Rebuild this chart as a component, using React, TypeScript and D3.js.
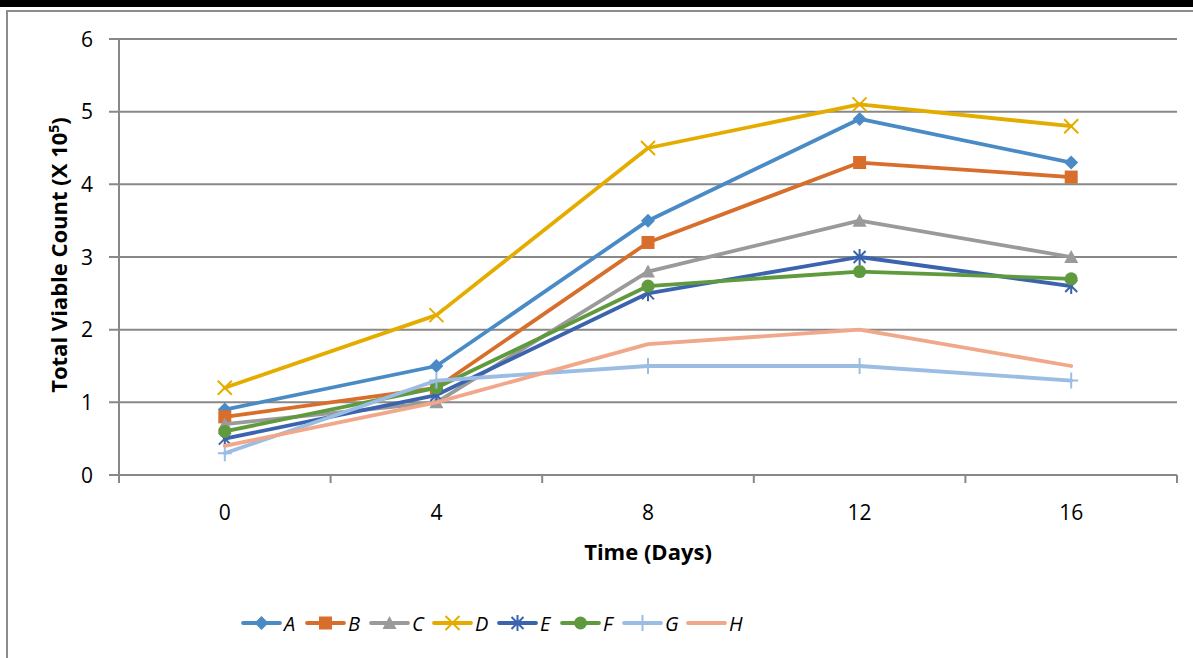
import React from "react";
import * as d3 from "d3";

const days = ["0", "4", "8", "12", "16"];
const yTicks = [0, 1, 2, 3, 4, 5, 6];
const seriesNames = ["A", "B", "C", "D", "E", "F", "G", "H"];
const seriesA = [0.9, 1.5, 3.5, 4.9, 4.3];
const seriesB = [0.8, 1.2, 3.2, 4.3, 4.1];
const seriesC = [0.7, 1.0, 2.8, 3.5, 3.0];
const seriesD = [1.2, 2.2, 4.5, 5.1, 4.8];
const seriesE = [0.5, 1.1, 2.5, 3.0, 2.6];
const seriesF = [0.6, 1.2, 2.6, 2.8, 2.7];
const seriesG = [0.3, 1.3, 1.5, 1.5, 1.3];
const seriesH = [0.4, 1.0, 1.8, 2.0, 1.5];

const seriesValues = [seriesA, seriesB, seriesC, seriesD, seriesE, seriesF, seriesG, seriesH];
const colors = ["#4A8BC5", "#D86E2B", "#9A9A9A", "#E5AC00", "#3B63AE", "#5F9A3E", "#9BBDE4", "#F1A78A"];
const markers = ["diamond", "square", "triangle", "x", "star", "circle", "plus", "none"];

const W = 1193;
const H = 658;
const left = 119;
const right = 1177;
const top = 39;
const bottom = 475;
const FONT = "'Open Sans', Lato, sans-serif";

function Marker({ type, x, y, color }: { type: string; x: number; y: number; color: string }) {
  const s = 6;
  switch (type) {
    case "diamond":
      return <path d={`M${x},${y - 7}L${x + 7},${y}L${x},${y + 7}L${x - 7},${y}Z`} fill={color} />;
    case "square":
      return <rect x={x - 6.5} y={y - 6.5} width={13} height={13} fill={color} />;
    case "triangle":
      return <path d={`M${x},${y - 7}L${x + 7},${y + 6}L${x - 7},${y + 6}Z`} fill={color} />;
    case "x":
      return (
        <path d={`M${x - 7},${y - 7}L${x + 7},${y + 7}M${x - 7},${y + 7}L${x + 7},${y - 7}`} stroke={color} strokeWidth={2} fill="none" />
      );
    case "star":
      return (
        <path
          d={`M${x - s},${y - s}L${x + s},${y + s}M${x - s},${y + s}L${x + s},${y - s}M${x},${y - 8}L${x},${y + 8}`}
          stroke={color}
          strokeWidth={2}
          fill="none"
        />
      );
    case "circle":
      return <circle cx={x} cy={y} r={6.5} fill={color} />;
    case "plus":
      return <path d={`M${x - 7},${y}L${x + 7},${y}M${x},${y - 8}L${x},${y + 8}`} stroke={color} strokeWidth={2} fill="none" />;
    default:
      return null;
  }
}

export default function App() {
  const x = d3.scaleBand<string>().domain(days).range([left, right]);
  const y = d3.scaleLinear().domain([0, 6]).range([bottom, top]);
  const line = d3
    .line<number>()
    .x((_, i) => (x(days[i]) as number) + x.bandwidth() / 2)
    .y((d) => y(d));

  const boundaries = d3.range(days.length + 1).map((i) => left + i * x.bandwidth());
  const legendX = [243, 307, 371, 434, 499, 562, 624, 688];
  const legendY = 623;

  return (
    <svg width={W} height={H} style={{ position: "absolute", left: 0, top: 0, background: "#fff" }}>
      <rect x={0} y={0} width={W} height={H} fill="#fff" />
      <rect x={0} y={0} width={W} height={7} fill="#000" />
      <path d={`M7,${H}L7,11L${W},11`} stroke="#8c8c8c" strokeWidth={2} fill="none" />

      {yTicks.map((t) => (
        <g key={t}>
          <line x1={109} x2={right} y1={y(t)} y2={y(t)} stroke="#888" strokeWidth={2} />
          <text x={93} y={y(t) + 7.5} textAnchor="end" fontFamily={FONT} fontSize={21} fill="#000">
            {t}
          </text>
        </g>
      ))}
      <line x1={left} x2={left} y1={top} y2={483} stroke="#888" strokeWidth={2} />
      {boundaries.map((b, i) => (
        <line key={i} x1={b} x2={b} y1={bottom} y2={483} stroke="#888" strokeWidth={2} />
      ))}
      {days.map((d) => (
        <text key={d} x={(x(d) as number) + x.bandwidth() / 2} y={520} textAnchor="middle" fontFamily={FONT} fontSize={21} fill="#000">
          {d}
        </text>
      ))}

      <text x={(left + right) / 2} y={560} textAnchor="middle" fontFamily={FONT} fontSize={22} fontWeight="bold" fill="#000">
        Time (Days)
      </text>
      <text
        transform={`translate(67,${(top + bottom) / 2 - 2}) rotate(-90)`}
        textAnchor="middle"
        fontFamily={FONT}
        fontSize={22}
        fontWeight="bold"
        fill="#000"
      >
        Total Viable Count (X 10<tspan dy={-8} fontSize={14}>5</tspan>
        <tspan dy={8}>)</tspan>
      </text>

      {seriesValues.map((vals, si) => (
        <g key={seriesNames[si]}>
          <path d={line(vals) || ""} stroke={colors[si]} strokeWidth={3.8} fill="none" strokeLinejoin="round" strokeLinecap="round" />
          {vals.map((v, i) => (
            <Marker key={i} type={markers[si]} x={(x(days[i]) as number) + x.bandwidth() / 2} y={y(v)} color={colors[si]} />
          ))}
        </g>
      ))}

      {seriesNames.map((n, si) => (
        <g key={n}>
          <line x1={legendX[si]} x2={legendX[si] + 37} y1={legendY} y2={legendY} stroke={colors[si]} strokeWidth={3.8} strokeLinecap="round" />
          <Marker type={markers[si]} x={legendX[si] + 18.5} y={legendY} color={colors[si]} />
          <text x={legendX[si] + 41} y={legendY + 7.5} fontFamily={FONT} fontSize={20} fontStyle="italic" fill="#000">
            {n}
          </text>
        </g>
      ))}
    </svg>
  );
}
